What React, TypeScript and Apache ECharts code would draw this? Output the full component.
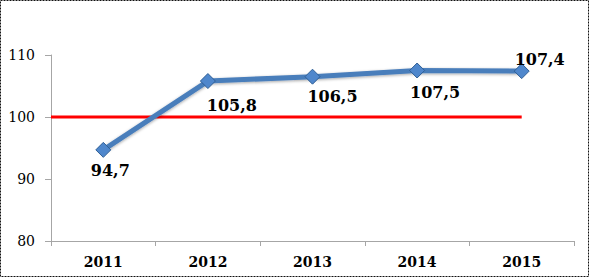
import React, { useEffect, useRef } from "react";
import * as echarts from "echarts";

const years = ["2011", "2012", "2013", "2014", "2015"];
const values = [94.7, 105.8, 106.5, 107.5, 107.4];
const baseline = 100;
const yTicks = { min: 80, max: 110, interval: 10 };
const labelOffsets: [number, number][] = [
  [7, 0],
  [24, 3],
  [20, -1],
  [18, 1],
  [18, -33],
];

export default function App() {
  const ref = useRef<HTMLDivElement>(null);
  useEffect(() => {
    if (!ref.current) return;
    const chart = echarts.init(ref.current, null, { renderer: "svg" });
    const fmt = (v: number) => v.toFixed(1).replace(".", ",");
    chart.setOption({
      animation: false,
      grid: { left: 51, right: 16, top: 55, bottom: 37 },
      xAxis: [
        {
          type: "category",
          data: years,
          boundaryGap: true,
          axisLine: { lineStyle: { color: "#a6a6a6", width: 1 } },
          axisTick: { show: true, length: 5, lineStyle: { color: "#a6a6a6" } },
          axisLabel: {
            color: "#000",
            fontFamily: "DejaVu Serif",
            fontWeight: "bold",
            fontSize: 14,
            margin: 14,
          },
        },
        {
          type: "value",
          min: 0,
          max: years.length,
          show: false,
        },
      ],
      yAxis: {
        type: "value",
        min: yTicks.min,
        max: yTicks.max,
        interval: yTicks.interval,
        splitLine: { show: false },
        axisLine: { show: true, lineStyle: { color: "#a6a6a6", width: 1 } },
        axisTick: { show: true, length: 6, lineStyle: { color: "#a6a6a6" } },
        axisLabel: {
          color: "#000",
          fontFamily: "DejaVu Serif",
          fontSize: 14,
          margin: 16,
        },
      },
      series: [
        {
          type: "line",
          xAxisIndex: 1,
          data: [
            [0, baseline],
            [years.length - 0.5, baseline],
          ],
          symbol: "none",
          lineStyle: { color: "#ff0000", width: 3 },
          z: 2,
        },
        {
          type: "line",
          data: values.map((v, i) => ({
            value: v,
            label: { offset: labelOffsets[i] },
          })),
          symbol: "diamond",
          symbolSize: 15,
          lineStyle: {
            color: "#4a7ebb",
            width: 5,
            shadowColor: "rgba(0,0,0,0.35)",
            shadowBlur: 3,
            shadowOffsetY: 1,
          },
          itemStyle: {
            color: "#4f87cc",
            borderColor: "#2f5f96",
            borderWidth: 1,
          },
          label: {
            show: true,
            position: "bottom",
            distance: 5,
            color: "#000",
            fontFamily: "DejaVu Serif",
            fontWeight: "bold",
            fontSize: 16,
            formatter: (p: any) => fmt(p.value),
          },
          z: 3,
        },
      ],
      graphic: [
        {
          type: "rect",
          shape: { x: 0.5, y: 0.5, width: 588, height: 276 },
          style: { fill: "none", stroke: "#111", lineWidth: 1, lineDash: [2, 1] },
          silent: true,
        },
      ],
    });
    return () => chart.dispose();
  }, []);
  return (
    <div
      ref={ref}
      style={{ position: "fixed", left: 0, top: 0, width: 590, height: 278, background: "#fff" }}
    />
  );
}
